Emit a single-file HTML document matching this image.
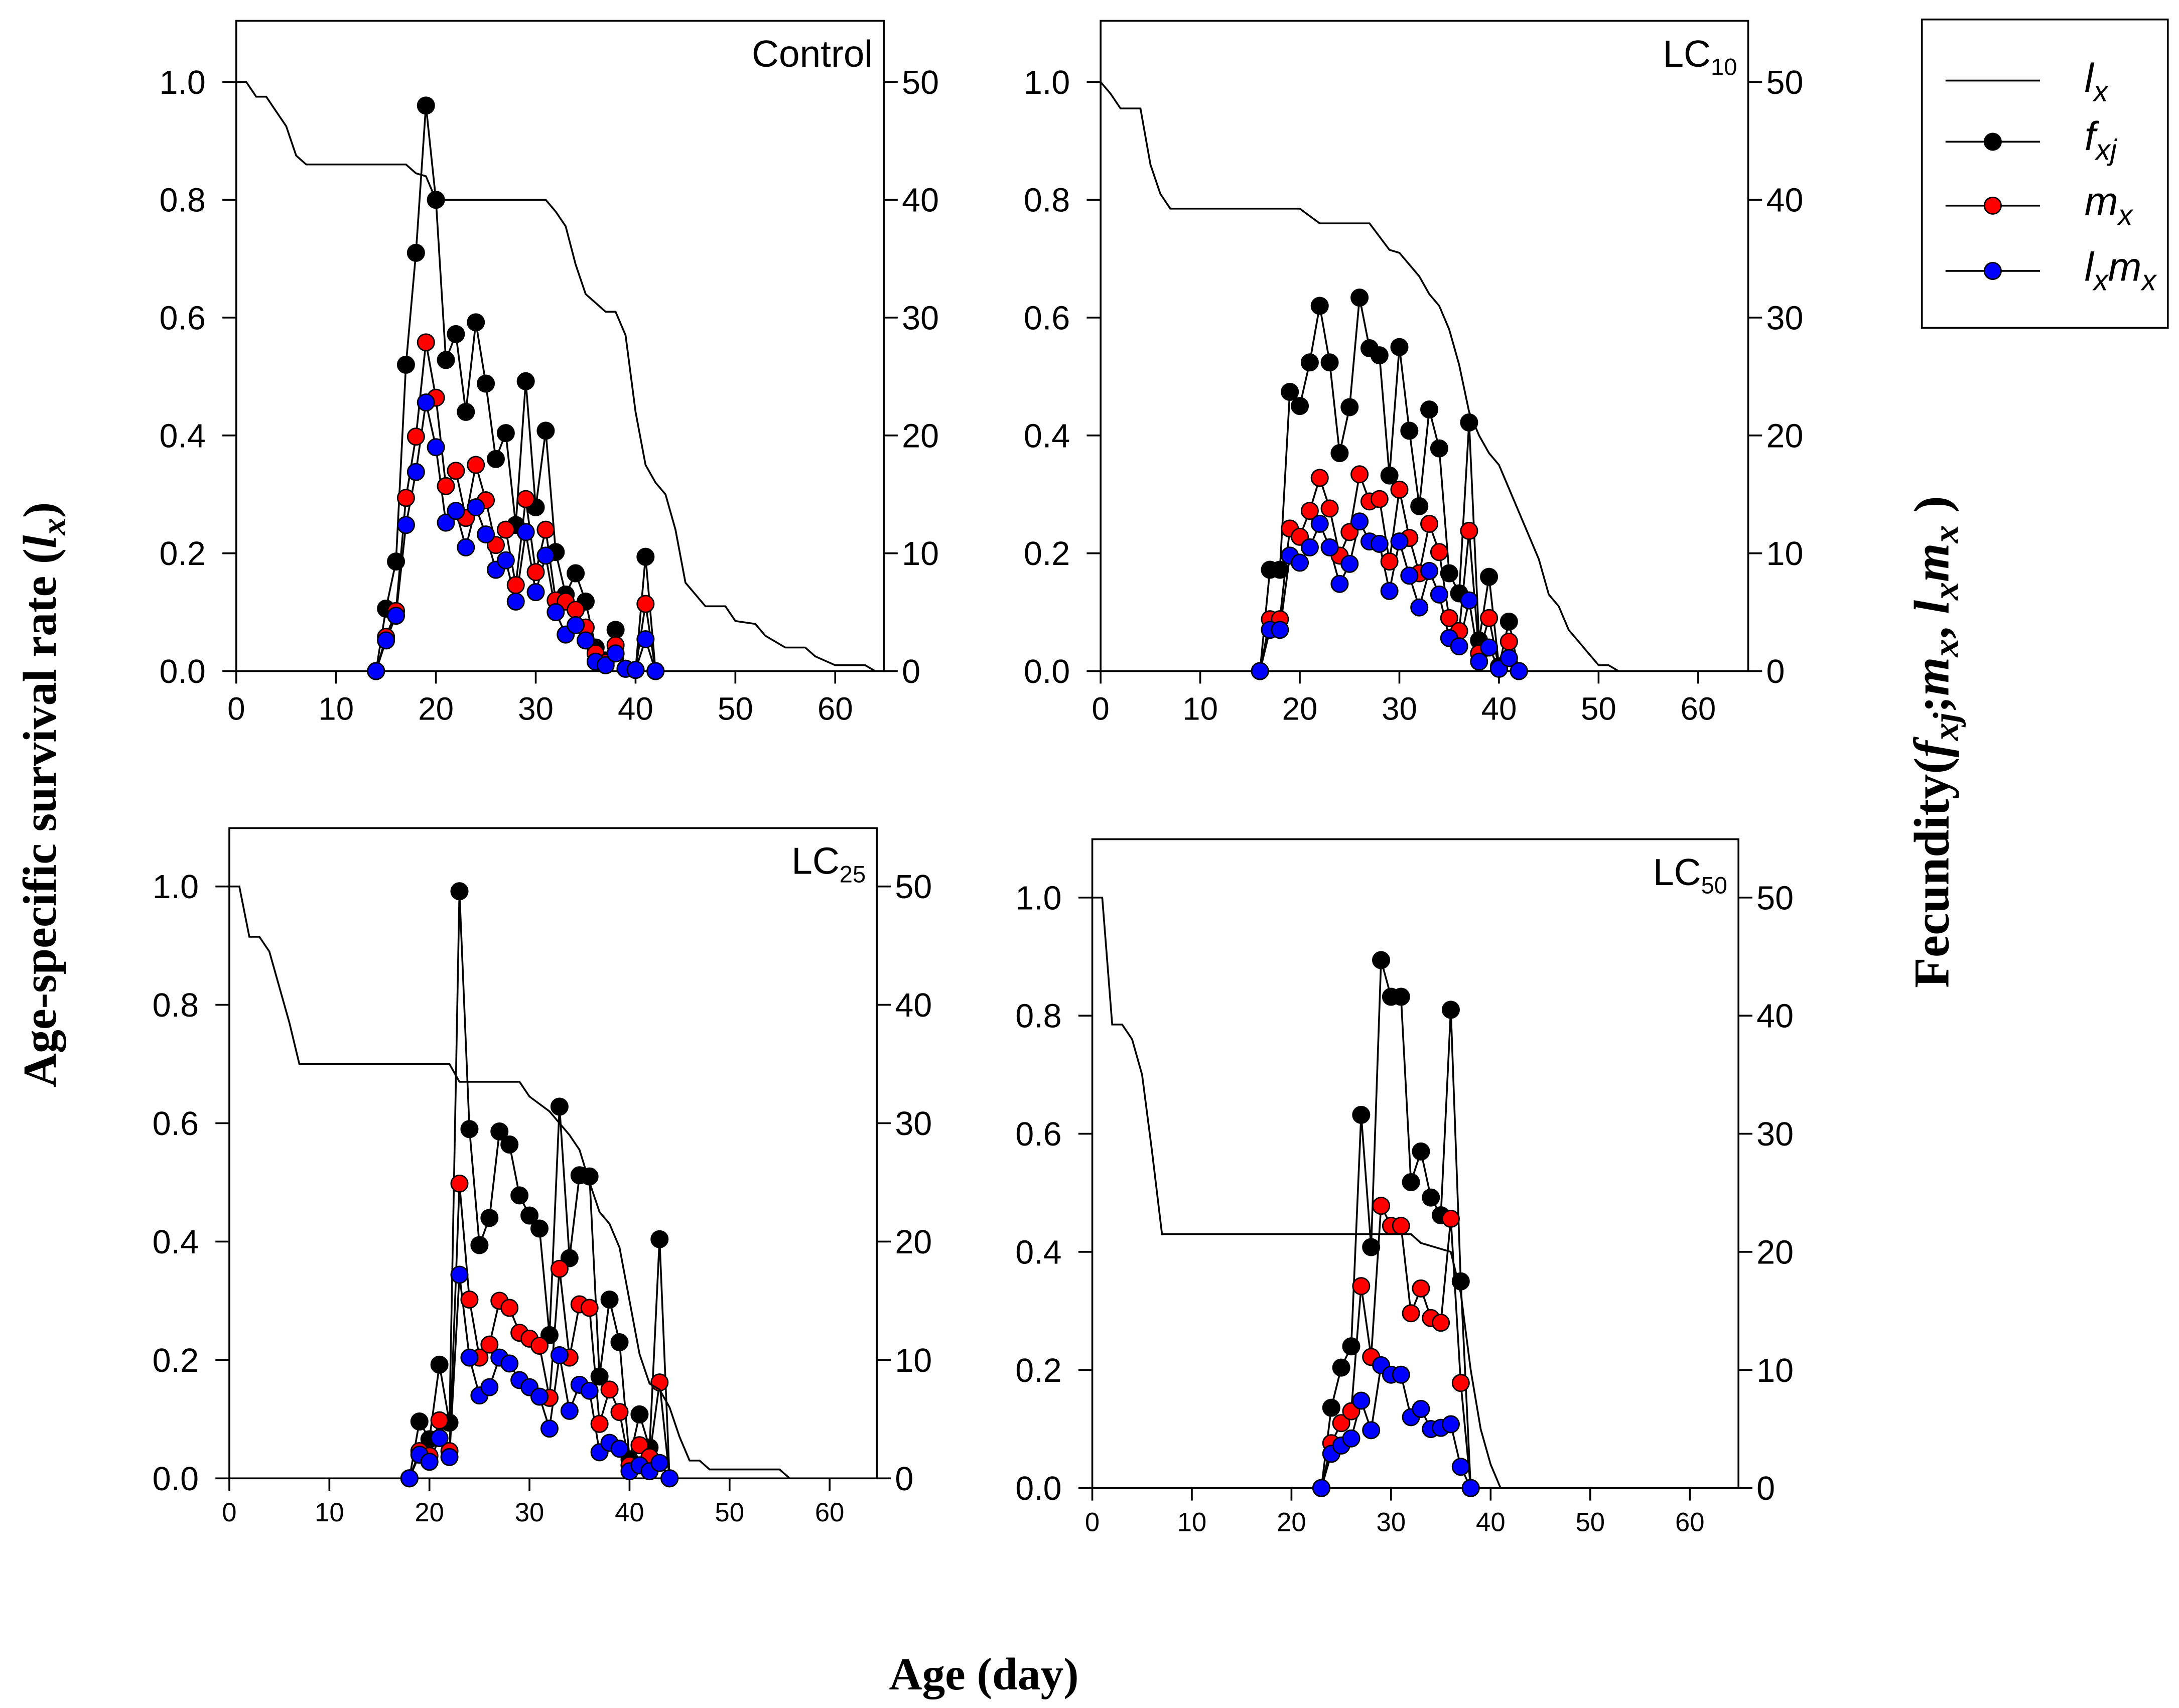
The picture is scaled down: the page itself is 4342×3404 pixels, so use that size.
<!DOCTYPE html>
<html><head><meta charset="utf-8"><style>
html,body{margin:0;padding:0;background:#fff}
svg{display:block}
text{font-family:"Liberation Sans",Arial,sans-serif;fill:#000}
.serif{font-family:"Liberation Serif","Times New Roman",serif;font-weight:bold}
</style></head><body>
<svg id="chart" width="4342" height="3404" viewBox="0 0 1568 1229.3" xmlns="http://www.w3.org/2000/svg">
<rect width="1568" height="1230" fill="#fff"/>
<text class="serif" transform="translate(40,572) rotate(-90)" text-anchor="middle" font-size="34">Age-specific survival rate (<tspan font-style="italic">l</tspan><tspan font-style="italic" font-size="25" dy="7">x</tspan><tspan dy="-7">)</tspan></text>
<text class="serif" transform="translate(1402,534) rotate(-90)" text-anchor="middle" font-size="36">Fecundity(<tspan font-style="italic">f</tspan><tspan font-style="italic" font-size="26" dy="7">xj</tspan><tspan dy="-7">;</tspan><tspan font-style="italic">m</tspan><tspan font-style="italic" font-size="26" dy="7">x</tspan><tspan dy="-7">, </tspan><tspan font-style="italic">l</tspan><tspan font-style="italic" font-size="26" dy="7">x</tspan><tspan font-style="italic" dy="-7">m</tspan><tspan font-style="italic" font-size="26" dy="7">x</tspan><tspan dy="-7"> )</tspan></text>
<text class="serif" x="708" y="1216" text-anchor="middle" font-size="33">Age (day)</text>
<g>
<rect x="1383" y="14" width="177" height="222" fill="none" stroke="#000" stroke-width="1.3"/>
<g><line x1="1400" y1="58" x2="1468" y2="58" stroke="#000" stroke-width="1.3"/><text x="1500" y="66" font-size="29" font-family="Liberation Serif" font-style="italic">l<tspan font-size="21" dy="7">x</tspan></text></g>
<g><line x1="1400" y1="102" x2="1468" y2="102" stroke="#000" stroke-width="1.3"/><circle cx="1434" cy="102" r="6" fill="#000" stroke="#000"/><text x="1500" y="108" font-size="29" font-family="Liberation Serif" font-style="italic">f<tspan font-size="21" dy="7">xj</tspan></text></g>
<g><line x1="1400" y1="148" x2="1468" y2="148" stroke="#000" stroke-width="1.3"/><circle cx="1434" cy="148" r="6" fill="#f00" stroke="#000"/><text x="1500" y="155" font-size="29" font-family="Liberation Serif" font-style="italic">m<tspan font-size="21" dy="7">x</tspan></text></g>
<g><line x1="1400" y1="195" x2="1468" y2="195" stroke="#000" stroke-width="1.3"/><circle cx="1434" cy="195" r="6" fill="#00f" stroke="#000"/><text x="1500" y="202" font-size="29" font-family="Liberation Serif" font-style="italic">l<tspan font-size="21" dy="7">x</tspan><tspan dy="-7">m</tspan><tspan font-size="21" dy="7">x</tspan></text></g>
</g>
</svg>
<script>
const xTicks=[0,10,20,30,40,50,60];
const yTicks=[0,0.2,0.4,0.6,0.8,1.0];
const y2Ticks=[0,10,20,30,40,50];
// Control
const ctrlLxDay=[0,1,2,3,4,5,6,7,17,18,19,20,31,32,33,34,35,36,37,38,39,40,41,42,43,44,45,46,47,49,50,52,53,55,57,58,60,62,63,64];
const ctrlLx=[1,1,0.975,0.975,0.95,0.925,0.875,0.86,0.86,0.845,0.84,0.8,0.8,0.78,0.755,0.69,0.64,0.625,0.61,0.61,0.57,0.44,0.35,0.32,0.3,0.24,0.15,0.13,0.11,0.11,0.085,0.08,0.06,0.04,0.04,0.025,0.01,0.01,0.01,0];
const ctrlDays=[14,15,16,17,18,19,20,21,22,23,24,25,26,27,28,29,30,31,32,33,34,35,36,37,38,39,40,41,42];
const ctrlFxj=[0,5.3,9.3,26,35.5,48,40,26.4,28.6,22,29.6,24.4,18,20.2,12.4,24.6,13.9,20.4,10.1,6.5,8.3,5.9,2,0.9,3.5,0.2,0.1,9.7,0];
const ctrlMx=[0,2.9,5.1,14.7,19.9,27.9,23.2,15.7,17,13,17.5,14.5,10.7,12,7.3,14.6,8.4,12,6,5.9,5.2,3.7,1.5,0.7,2.2,0.2,0.1,5.7,0];
const ctrlLxmx=[0,2.6,4.7,12.4,16.9,22.8,19,12.6,13.6,10.5,13.9,11.6,8.6,9.4,5.9,11.8,6.7,9.8,5,3.1,3.9,2.6,0.8,0.5,1.5,0.2,0.1,2.7,0];
// LC10
const lc10LxDay=[0,1,2,4,5,6,7,20,22,27,29,30,31,32,33,34,35,36,37,38,39,40,41,42,43,44,45,46,47,48,50,51,52];
const lc10Lx=[1,0.98,0.955,0.955,0.86,0.81,0.785,0.785,0.76,0.76,0.715,0.71,0.69,0.67,0.64,0.62,0.58,0.52,0.44,0.4,0.37,0.35,0.31,0.27,0.23,0.19,0.13,0.11,0.07,0.05,0.01,0.01,0];
const lc10Days=[16,17,18,19,20,21,22,23,24,25,26,27,28,29,30,31,32,33,34,35,36,37,38,39,40,41,42];
const lc10Fxj=[0,8.6,8.6,23.7,22.5,26.2,31,26.2,18.5,22.4,31.7,27.4,26.8,16.6,27.5,20.4,14,22.2,18.9,8.3,6.6,21.1,2.6,8,0.4,4.2,0];
const lc10Mx=[0,4.4,4.4,12.1,11.4,13.6,16.4,13.8,9.8,11.8,16.7,14.4,14.6,9.3,15.4,11.3,8.3,12.5,10.1,4.5,3.4,11.9,1.5,4.5,0.2,2.5,0];
const lc10Lxmx=[0,3.5,3.5,9.8,9.2,10.5,12.5,10.5,7.4,9.1,12.7,11,10.8,6.8,11,8.1,5.4,8.5,6.5,2.8,2.1,6,0.8,2,0.2,1.1,0];
// LC25
const lc25LxDay=[0,1,2,3,4,5,6,7,22,23,29,30,32,33,34,35,36,37,38,39,40,41,42,43,44,45,46,47,48,55,56];
const lc25Lx=[1,1,0.915,0.915,0.89,0.83,0.77,0.7,0.7,0.67,0.67,0.645,0.62,0.6,0.58,0.555,0.5,0.45,0.43,0.39,0.3,0.21,0.16,0.15,0.12,0.07,0.03,0.03,0.015,0.015,0];
const lc25Days=[18,19,20,21,22,23,24,25,26,27,28,29,30,31,32,33,34,35,36,37,38,39,40,41,42,43,44];
const lc25Fxj=[0,4.8,3.3,9.6,4.7,49.6,29.5,19.7,22,29.3,28.2,23.9,22.2,21.1,12.1,31.4,18.6,25.6,25.5,8.6,15.1,11.5,1.6,5.4,2.6,20.2,0];
const lc25Mx=[0,2.3,1.9,4.9,2.3,24.9,15.1,10.2,11.3,15,14.4,12.3,11.8,11.2,6.8,17.7,10.2,14.7,14.4,4.6,7.5,5.6,1.1,2.8,1.8,8.1,0];
const lc25Lxmx=[0,2,1.4,3.4,1.8,17.2,10.2,7,7.7,10.2,9.7,8.3,7.7,6.9,4.2,10.4,5.7,7.9,7.4,2.2,3,2.5,0.6,1.1,0.6,1.3,0];
// LC50
const lc50LxDay=[0,1,2,3,4,5,6,7,32,33,36,37,38,39,40,41];
const lc50Lx=[1,1,0.785,0.785,0.76,0.7,0.57,0.43,0.43,0.415,0.4,0.33,0.2,0.1,0.04,0];
const lc50Days=[23,24,25,26,27,28,29,30,31,32,33,34,35,36,37,38];
const lc50Fxj=[0,6.8,10.2,12,31.6,20.4,44.7,41.6,41.6,25.9,28.5,24.6,23.1,40.5,17.5,0];
const lc50Mx=[0,3.8,5.5,6.5,17.1,11.1,23.9,22.2,22.2,14.8,16.9,14.4,14,22.8,8.9,0];
const lc50Lxmx=[0,2.9,3.6,4.2,7.4,4.9,10.4,9.6,9.6,6,6.7,5,5.1,5.4,1.8,0];

const NS="http://www.w3.org/2000/svg";
const svg=document.getElementById('chart');
function mk(tag,attrs,parent){const e=document.createElementNS(NS,tag);for(const k in attrs)e.setAttribute(k,attrs[k]);(parent||svg).appendChild(e);return e;}

const panels=[
 {name:'control',L:170,R:636,T:15,B:483,y1:59,x60:601,fs:24,xfs:23,title:'Control',sub:'',lxd:ctrlLxDay,lx:ctrlLx,d:ctrlDays,f:ctrlFxj,m:ctrlMx,lm:ctrlLxmx},
 {name:'lc10',L:792,R:1258,T:15,B:483,y1:59,x60:1222,fs:24,xfs:23,title:'LC',sub:'10',lxd:lc10LxDay,lx:lc10Lx,d:lc10Days,f:lc10Fxj,m:lc10Mx,lm:lc10Lxmx},
 {name:'lc25',L:165,R:631,T:596,B:1064,y1:638,x60:597,fs:24,xfs:19,title:'LC',sub:'25',lxd:lc25LxDay,lx:lc25Lx,d:lc25Days,f:lc25Fxj,m:lc25Mx,lm:lc25Lxmx},
 {name:'lc50',L:786,R:1251,T:604,B:1071,y1:646,x60:1216,fs:24,xfs:19,title:'LC',sub:'50',lxd:lc50LxDay,lx:lc50Lx,d:lc50Days,f:lc50Fxj,m:lc50Mx,lm:lc50Lxmx}
];
panels.forEach(p=>{
 const g=mk('g',{});
 
 
 const X=v=>p.L+(p.x60-p.L)*v/60;
 const Y=v=>p.B-(p.B-p.y1)*v;
 const Y2=v=>p.B-(p.B-p.y1)*v/50;
 const box=mk('rect',{x:p.L,y:p.T,width:p.R-p.L,height:p.B-p.T,fill:'none',stroke:'#000','stroke-width':1.3},g);
 
 
 xTicks.forEach(t=>{
  mk('line',{x1:X(t),x2:X(t),y1:p.B,y2:p.B+9,stroke:'#000','stroke-width':1.3},g);
  const tx=mk('text',{x:X(t),y:p.B+(p.xfs>20?35:31),'text-anchor':'middle','font-size':p.xfs},g);
  tx.textContent=t;
  
  
 });
 yTicks.forEach(t=>{
  mk('line',{x1:p.L-10,x2:p.L,y1:Y(t),y2:Y(t),stroke:'#000','stroke-width':1.3},g);
  const tx=mk('text',{x:p.L-22,y:Y(t)+8.5,'text-anchor':'end','font-size':p.fs},g);
  tx.textContent=t.toFixed(1);
  
  
 });
 y2Ticks.forEach(t=>{
  mk('line',{x1:p.R,x2:p.R+10,y1:Y2(t),y2:Y2(t),stroke:'#000','stroke-width':1.3},g);
  const tx=mk('text',{x:p.R+13,y:Y2(t)+8.5,'text-anchor':'start','font-size':p.fs},g);
  tx.textContent=t;
  
  
 });
 const ti=mk('text',{x:p.R-8,y:p.T+33,'text-anchor':'end','font-size':27},g);
 ti.innerHTML=p.title+(p.sub?'<tspan font-size="17" dy="6">'+p.sub+'</tspan>':'');
 
 
 const series=[[p.f,'#000','fxj'],[p.m,'#f00','mx'],[p.lm,'#00f','lxmx']];
 series.forEach(s=>{
  const pts=p.d.map((d,i)=>X(d)+','+Y2(s[0][i])).join(' ');
  const pl=mk('polyline',{points:pts,fill:'none',stroke:'#000','stroke-width':1.3},g);
  
  
 });
 series.forEach(s=>{
  p.d.forEach((d,i)=>{
   const c=mk('circle',{cx:X(d),cy:Y2(s[0][i]),r:6,fill:s[1],stroke:'#000','stroke-width':1},g);
   
   
  });
 });
 const lp=mk('polyline',{points:p.lxd.map((d,i)=>X(d)+','+Y(p.lx[i])).join(' '),fill:'none',stroke:'#000','stroke-width':1.3},g);
 
 
});
</script>
</body></html>
